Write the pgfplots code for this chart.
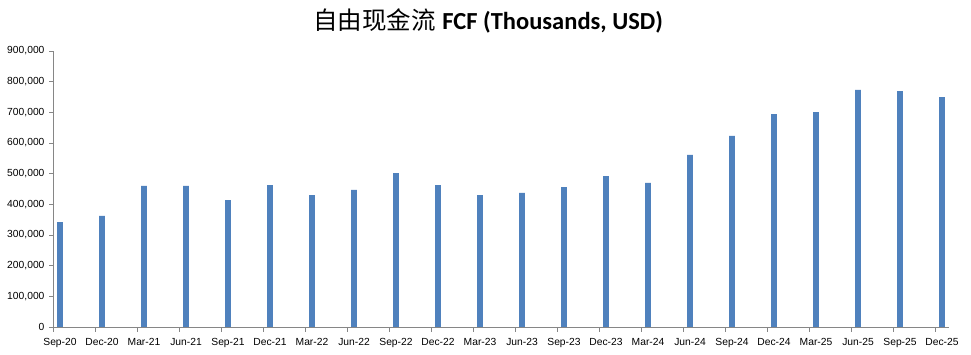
\documentclass[border=0pt]{standalone}
\usepackage{pgfplots}
\pgfplotsset{compat=1.18}
\usepackage{fontspec}
\setmainfont{Liberation Sans}
\newfontfamily\cjk{Noto Sans CJK SC}
\newfontfamily\carlito{Carlito}
\definecolor{barblue}{HTML}{4F81BD}
\definecolor{axgray}{HTML}{868686}
\begin{document}
\begin{tikzpicture}
\begin{axis}[
  at={(0pt,0pt)}, anchor=south west,
  scale only axis, width=896pt, height=276pt,
  xmin=-0.166667, xmax=21.166667, ymin=0, ymax=900000,
  axis x line=bottom, axis y line=left,
  axis line style={draw=axgray, line width=0.8pt, -},
  ybar, bar width=5.8pt,
  xtick={0,...,21},
  xticklabels={Sep-20,Dec-20,Mar-21,Jun-21,Sep-21,Dec-21,Mar-22,Jun-22,Sep-22,Dec-22,Mar-23,Jun-23,Sep-23,Dec-23,Mar-24,Jun-24,Sep-24,Dec-24,Mar-25,Jun-25,Sep-25,Dec-25},
  minor xtick={-0.166667,0.833333,1.833333,2.833333,3.833333,4.833333,5.833333,6.833333,7.833333,8.833333,9.833333,10.833333,11.833333,12.833333,13.833333,14.833333,15.833333,16.833333,17.833333,18.833333,19.833333,20.833333},
  major x tick style={draw=none},
  minor x tick style={draw=axgray, line width=0.8pt},
  ytick style={draw=axgray, line width=0.8pt},
  tick align=outside,
  major tick length=4pt, minor tick length=5pt,
  ytick={0,100000,...,900000},
  scaled y ticks=false,
  /pgf/number format/fixed,
  /pgf/number format/1000 sep={,},
  /pgf/number format/assume math mode=true,
  tick label style={font=\fontsize{10.3}{12}\selectfont, text=black},
  xticklabel style={yshift=-4pt},
  yticklabel style={xshift=-1pt},
  clip=false,
]
\addplot[fill=barblue, draw=none] coordinates {
(0,342000) (1,362000) (2,460000) (3,460000) (4,414000) (5,463000) (6,430000)
(7,447000) (8,502000) (9,463000) (10,430000) (11,437000) (12,456000) (13,492000)
(14,470000) (15,561000) (16,623000) (17,694000) (18,701000) (19,773000) (20,769000) (21,750000)};
\end{axis}
\path[use as bounding box] (-53pt,-28pt) rectangle (918pt,327pt);
\node[inner sep=0pt] at (435pt,306pt) {\fontsize{24.5}{28}\selectfont{\cjk 自由现金流} {\carlito\bfseries FCF (Thousands, USD)}};
\end{tikzpicture}
\end{document}
